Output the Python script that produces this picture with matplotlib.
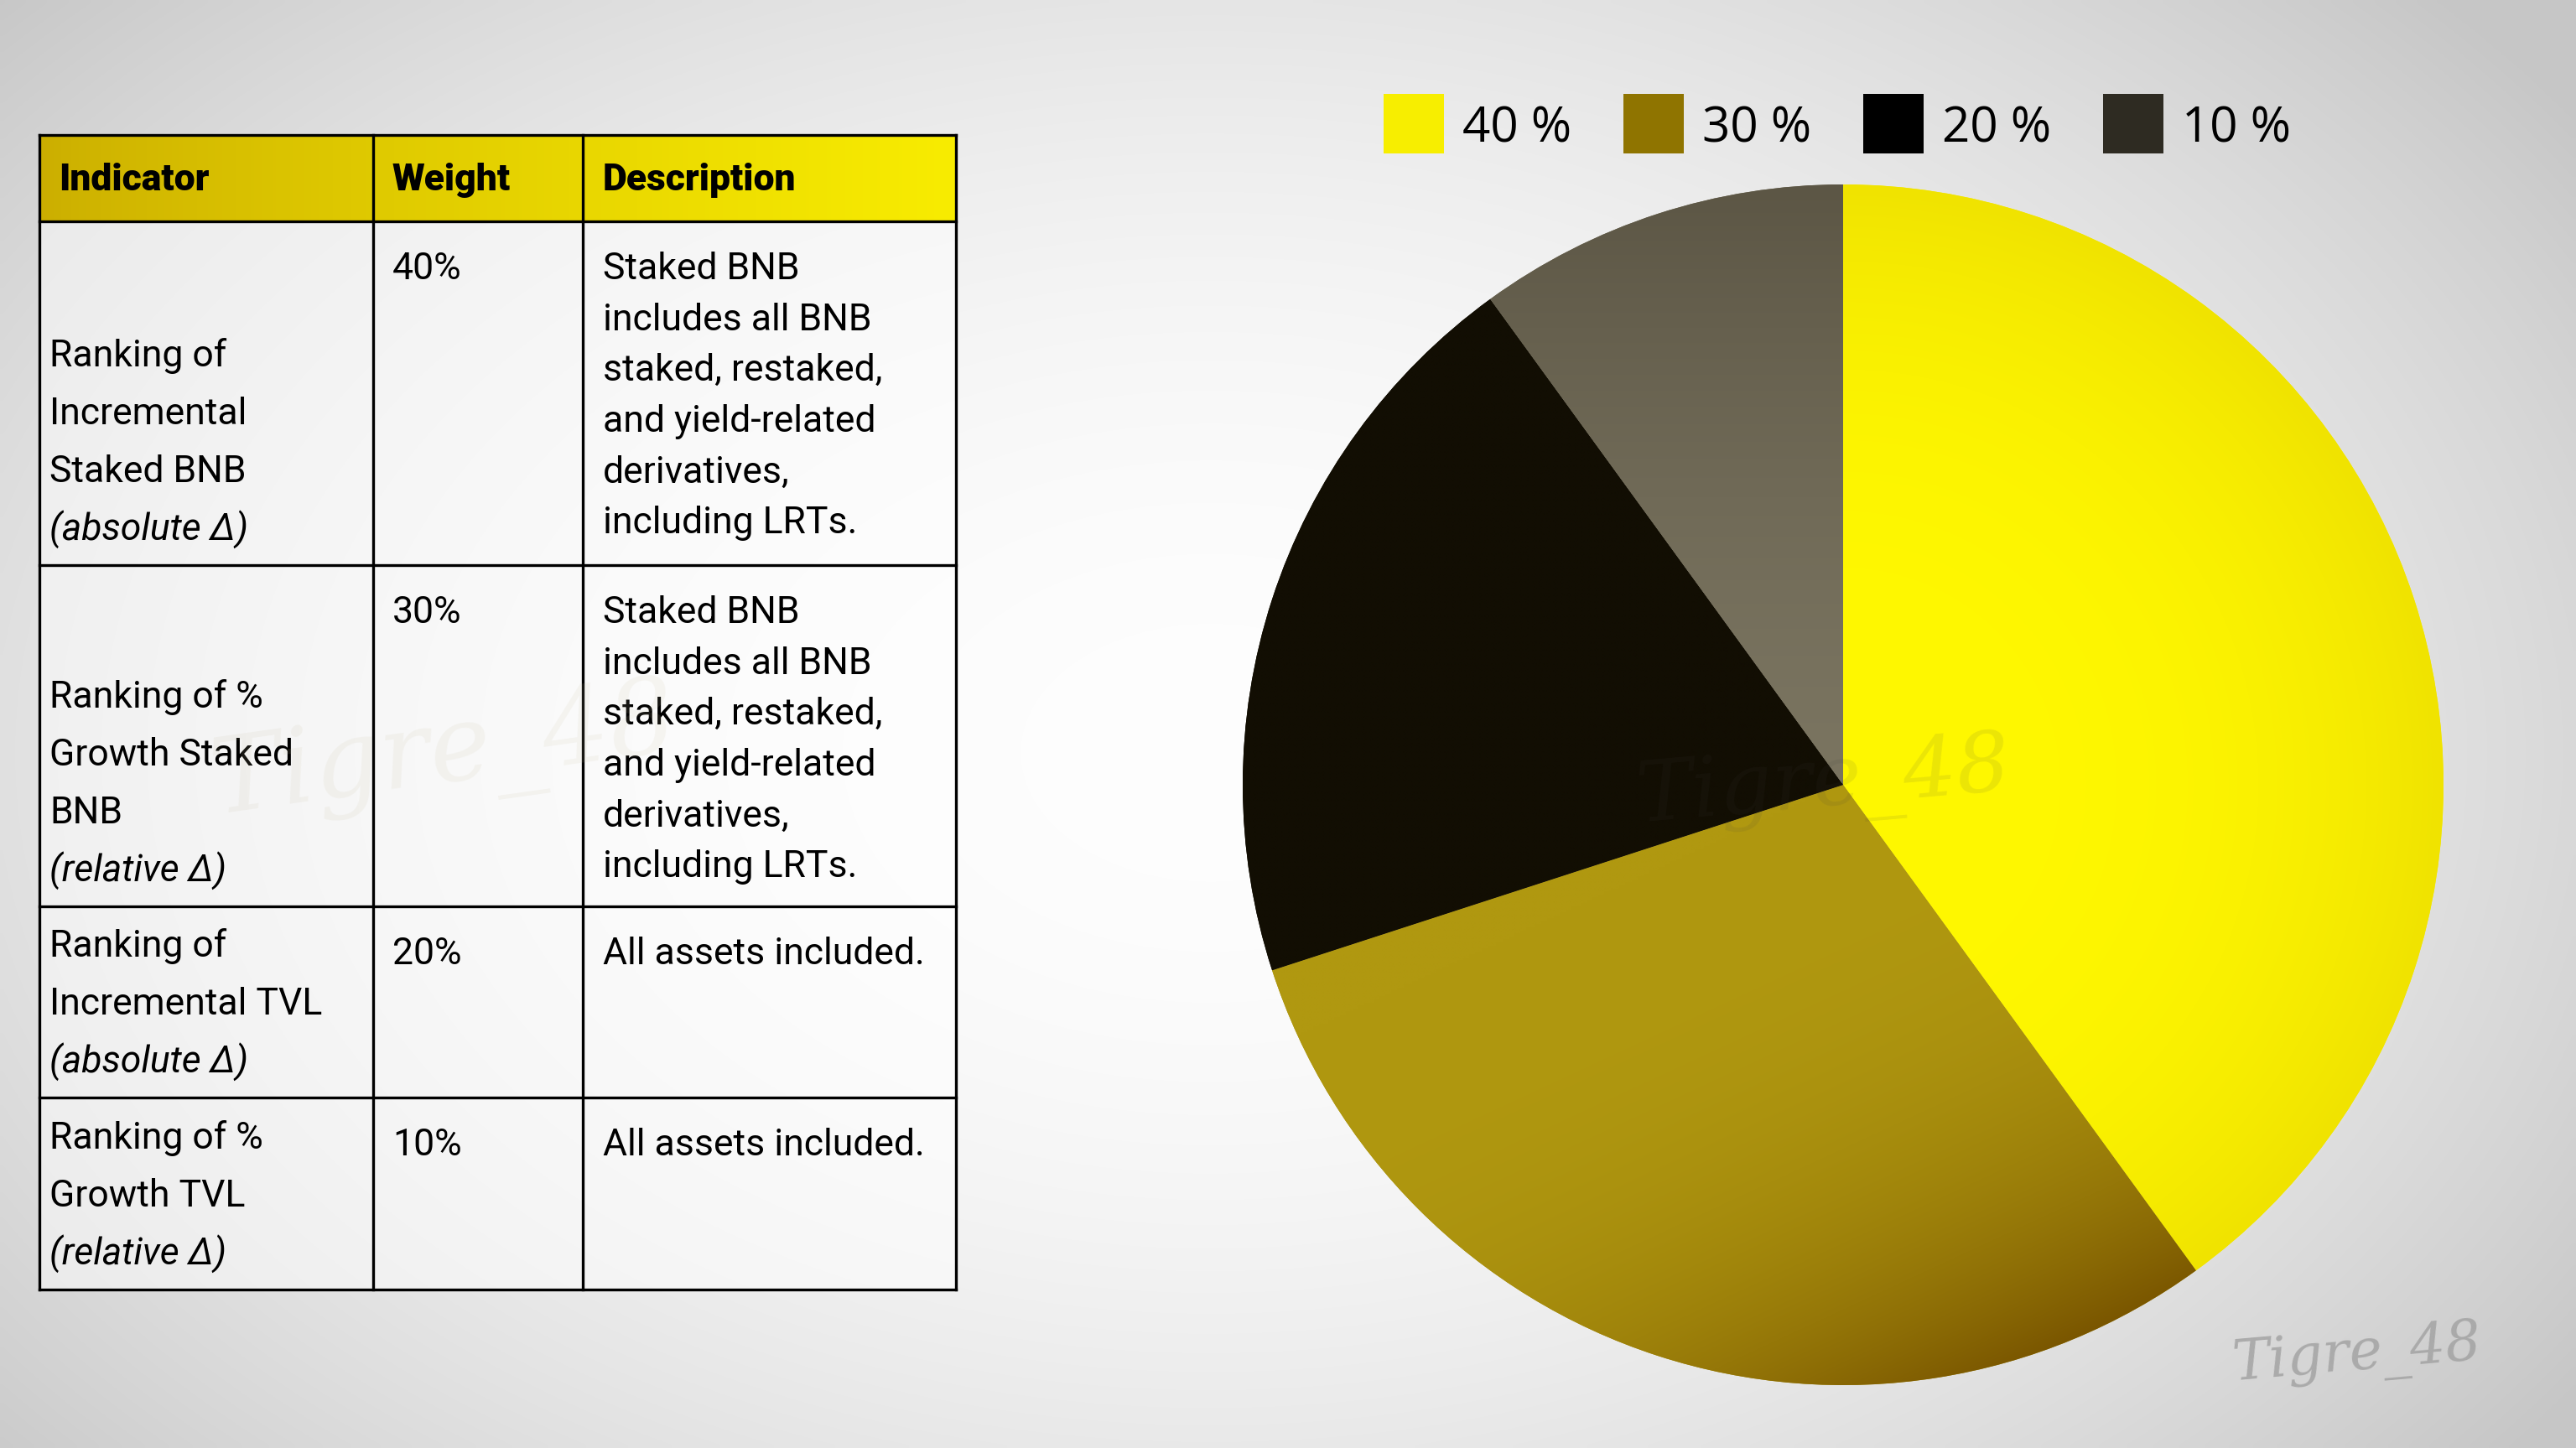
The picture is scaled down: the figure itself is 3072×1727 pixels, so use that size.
import numpy as np
import matplotlib.pyplot as plt
from matplotlib.patches import Rectangle
from matplotlib.colors import to_rgb

# chart data
weights = [40, 30, 20, 10]
legend_labels = [f"{w} %" for w in weights]
weight_labels = [f"{w}%" for w in weights]
columns = ["Indicator", "Weight", "Description"]
indicator_lines = [
    ["Ranking of", "Incremental", "Staked BNB"],
    ["Ranking of %", "Growth Staked", "BNB"],
    ["Ranking of", "Incremental TVL"],
    ["Ranking of %", "Growth TVL"],
]
delta_notes = ["(absolute Δ)", "(relative Δ)", "(absolute Δ)", "(relative Δ)"]
staked_desc = ["Staked BNB", "includes all BNB", "staked, restaked,",
               "and yield-related", "derivatives,", "including LRTs."]
descriptions = [staked_desc, staked_desc,
                ["All assets included."], ["All assets included."]]

legend_colors = ["#F7EE00", "#8F7400", "#000000", "#2E2B22"]
pie_colors = ["#F8F000", "#A89010", "#120E03", "#6E6852"]

W, H = 3072, 1727
fig = plt.figure(figsize=(W / 100, H / 100), dpi=100)


def mix(c1, c2, t):
    a = np.array(to_rgb(c1))
    b = np.array(to_rgb(c2))
    t = np.clip(t, 0, 1)[..., None]
    return a * (1 - t) + b * t


# background, pixel coordinates with y going down
bg = fig.add_axes([0, 0, 1, 1])
gx, gy = np.meshgrid(np.linspace(0, 1, 400), np.linspace(0, 1, 225))
d = ((gx - 0.47) / 0.62) ** 2 + ((gy - 0.52) / 0.75) ** 2
val = np.clip(0.995 - 0.2 * d, 0.78, 1)
bg.imshow(np.dstack([val] * 3), extent=(0, W, H, 0), aspect='auto',
          interpolation='bilinear', zorder=0)

# table layout (pixels)
col_x = [47, 445, 695, 1140]
row_y = [161, 264, 674, 1081, 1309, 1538]

head = mix("#CBAE00", "#F8EC00", np.linspace(0, 1, 256)[None, :] ** 0.8)
bg.imshow(head, extent=(col_x[0], col_x[-1], row_y[1], row_y[0]),
          aspect='auto', zorder=1)
bg.add_patch(Rectangle((col_x[0], row_y[1]), col_x[-1] - col_x[0],
                       row_y[-1] - row_y[1], facecolor='white', alpha=0.5,
                       lw=0, zorder=1))
for y in row_y:
    bg.plot([col_x[0], col_x[-1]], [y, y], color='black', lw=2.4, zorder=3,
            solid_capstyle='projecting')
for x in col_x:
    bg.plot([x, x], [row_y[0], row_y[-1]], color='black', lw=2.4, zorder=3,
            solid_capstyle='projecting')

font = 'Roboto'
fs = 32
head_x = [70, 468, 719]
for x, name in zip(head_x, columns):
    bg.text(x, (row_y[0] + row_y[1]) / 2 + 14, name, fontsize=fs,
            fontweight='heavy', family=font, va='baseline', zorder=4)

for i in range(len(weights)):
    top, bottom = row_y[i + 1], row_y[i + 2]
    lines = indicator_lines[i] + [delta_notes[i]]
    n = len(lines)
    for j, line in enumerate(lines):
        y = bottom - 45 - (n - 1 - j) * 69 + 15
        bg.text(59, y, line, fontsize=fs, family=font, va='baseline',
                style='italic' if j == n - 1 else 'normal', zorder=4)
    bg.text(468, top + 54 + 15, weight_labels[i], fontsize=fs, family=font,
            va='baseline', zorder=4)
    for j, line in enumerate(descriptions[i]):
        bg.text(719, top + 54 + j * 60.6 + 15, line, fontsize=fs,
                family=font, va='baseline', zorder=4)

# legend
for k, lab in enumerate(legend_labels):
    x0 = 1650 + k * 286
    bg.add_patch(Rectangle((x0, 112), 72, 71, facecolor=legend_colors[k],
                           lw=0, zorder=3))
    bg.text(x0 + 94, 169, lab, fontsize=42, family='Open Sans',
            va='baseline', zorder=4)

bg.set_xlim(0, W)
bg.set_ylim(H, 0)
bg.axis('off')

# pie
cx, cy, rad = 2198, 936, 716
pax = fig.add_axes([(cx - rad) / W, (H - cy - rad) / H, 2 * rad / W, 2 * rad / H])
wedges, _ = pax.pie(weights, colors=pie_colors, startangle=90,
                    counterclock=False, radius=1,
                    wedgeprops=dict(linewidth=0))

X, Y = np.meshgrid(np.linspace(-1, 1, 400), np.linspace(-1, 1, 400))
R = np.sqrt(X ** 2 + Y ** 2)
U = 0.42 * X - 0.906 * Y
shades = [
    mix("#FFF800", "#F0E300", R ** 3),
    mix("#B09810", "#7A5600", U ** 3),
    mix("#120E03", "#120E03", R),
    mix("#7A7460", "#5C5645", Y ** 1.5),
]
for w, img in zip(wedges, shades):
    im = pax.imshow(img, extent=(-1, 1, -1, 1), origin='lower',
                    interpolation='bilinear', zorder=2)
    im.set_clip_path(w)
pax.set_xlim(-1, 1)
pax.set_ylim(-1, 1)
pax.axis('off')

# watermarks
fig.text(529, 900, "Tigre_48", transform=bg.transData, fontsize=90,
         family='DejaVu Serif', style='italic', color='#c8c0a0', alpha=0.12,
         ha='center', va='center', rotation=8)
fig.text(2175, 935, "Tigre_48", transform=bg.transData, fontsize=72,
         family='DejaVu Serif', style='italic', color='#404040', alpha=0.1,
         ha='center', va='center', rotation=5)
fig.text(2811, 1616, "Tigre_48", transform=bg.transData, fontsize=48,
         family='DejaVu Serif', style='italic', color='#a0a0a0', alpha=0.8,
         ha='center', va='center', rotation=5)

fig.savefig("out.png", dpi=100)
